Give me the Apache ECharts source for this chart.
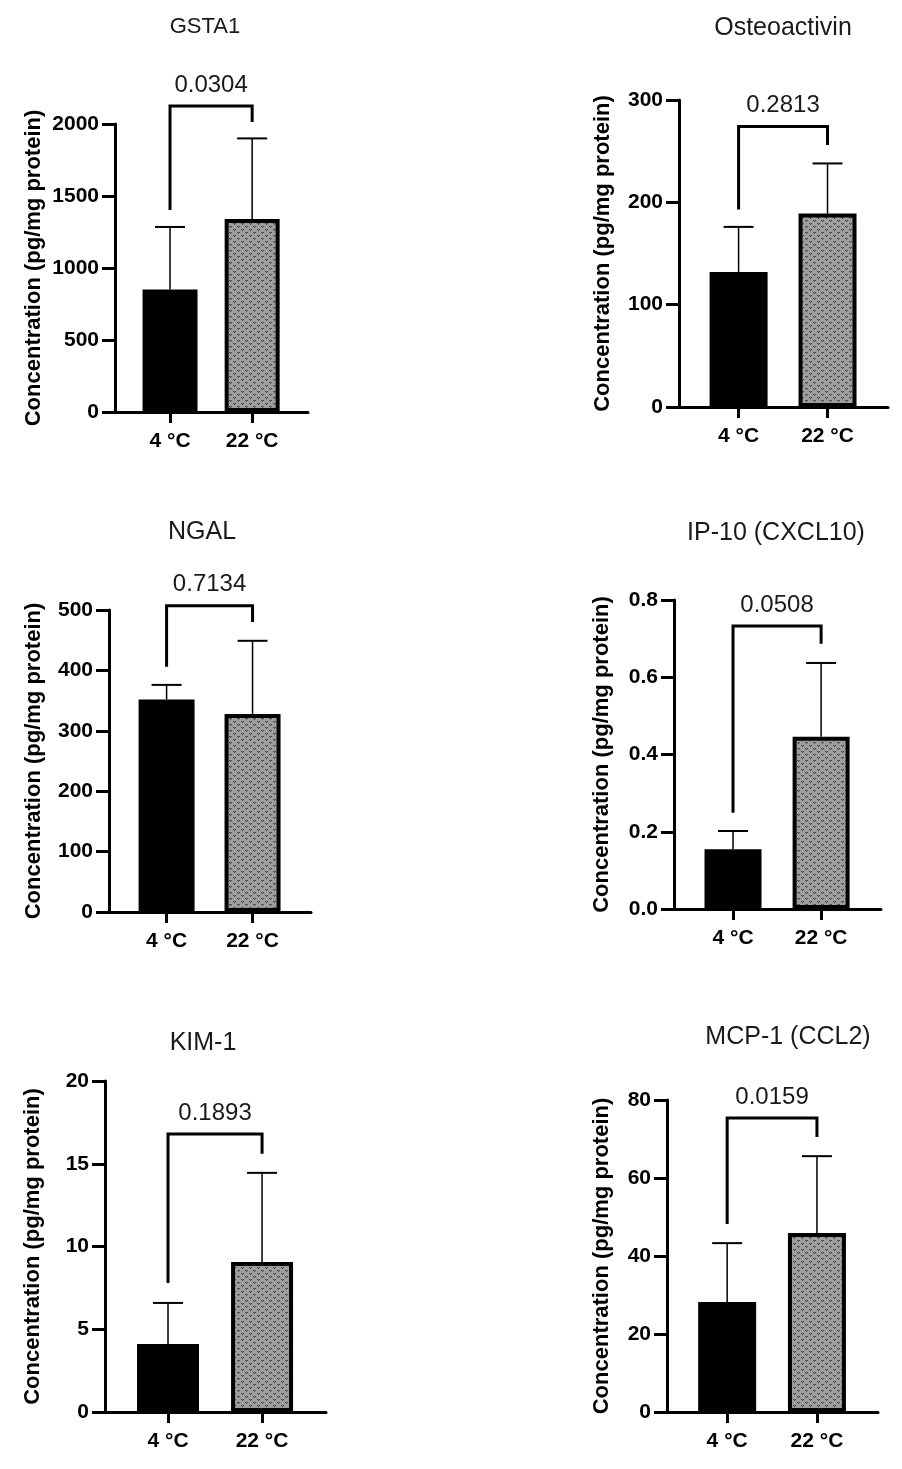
<!DOCTYPE html>
<html>
<head>
<meta charset="utf-8">
<title>Urinary kidney injury markers</title>
<script src="https://cdn.jsdelivr.net/npm/echarts@6/dist/echarts.min.js"></script>
<style>
html, body { margin: 0; padding: 0; background: #fff; }
#main { width: 902px; height: 1469px; }
</style>
</head>
<body>
<div id="main"></div>
<script>
/*** data ***/
var groups = ['4 °C', '22 °C'];
var markers = ['GSTA1', 'Osteoactivin', 'NGAL', 'IP-10 (CXCL10)', 'KIM-1', 'MCP-1 (CCL2)'];
var pValues = ['0.0304', '0.2813', '0.7134', '0.0508', '0.1893', '0.0159'];
var yTitle = 'Concentration (pg/mg protein)';

// mean per group [4 °C, 22 °C]
var meanGSTA1 = [850, 1340];
var meanOsteo = [132, 189];
var meanNGAL = [352, 328];
var meanIP10 = [0.155, 0.446];
var meanKIM1 = [4.11, 9.07];
var meanMCP1 = [28.2, 45.9];

// SD, upper whisker only
var sdGSTA1 = [435, 560];
var sdOsteo = [44, 49];
var sdNGAL = [24, 121];
var sdIP10 = [0.047, 0.191];
var sdKIM1 = [2.48, 5.38];
var sdMCP1 = [15.1, 19.7];

// y axis ticks: max, step
var yMax = [2000, 300, 500, 0.8, 20, 80];
var yStep = [500, 100, 100, 0.2, 5, 20];

// significance bracket: [bar level, left leg end, right leg end]
var bracketGSTA1 = [2125, 1403, 2014];
var bracketOsteo = [274, 193, 256];
var bracketNGAL = [507, 406, 480];
var bracketIP10 = [0.733, 0.249, 0.687];
var bracketKIM1 = [16.8, 7.8, 15.6];
var bracketMCP1 = [75.4, 48.2, 70.5];

var means = [meanGSTA1, meanOsteo, meanNGAL, meanIP10, meanKIM1, meanMCP1];
var sds = [sdGSTA1, sdOsteo, sdNGAL, sdIP10, sdKIM1, sdMCP1];
var brackets = [bracketGSTA1, bracketOsteo, bracketNGAL, bracketIP10, bracketKIM1, bracketMCP1];

/*** layout (px) ***/
var panels = [
	{ left: 115, top: 124, width: 193, height: 288, barW: 55, nameGap: 70, titleX: 205, titleY: 27, titleSize: 22 },
	{ left: 679, top: 100, width: 209, height: 307, barW: 58, nameGap: 65, titleX: 783, titleY: 28, titleSize: 25 },
	{ left: 109, top: 610, width: 202, height: 302, barW: 56, nameGap: 64, titleX: 202, titleY: 532, titleSize: 25 },
	{ left: 674, top: 600, width: 207, height: 309, barW: 57, nameGap: 61, titleX: 776, titleY: 533, titleSize: 25 },
	{ left: 105, top: 1081, width: 221, height: 331, barW: 62, nameGap: 61, titleX: 203, titleY: 1043, titleSize: 25 },
	{ left: 667, top: 1100, width: 211, height: 312, barW: 58, nameGap: 54, titleX: 788, titleY: 1037, titleSize: 25 }
];
var FONT = "'Liberation Sans', Arial, Helvetica, sans-serif";

var markerChart = {
	init: function() {
		var chart = echarts.init(document.getElementById('main'), null, { renderer: 'canvas' });
		chart.setOption(this.buildOption(), true);
	},
	//灰色点状填充
	buildPattern: function() {
		var c = document.createElement('canvas');
		c.width = 8;
		c.height = 6;
		var ctx = c.getContext('2d');
		ctx.fillStyle = '#9e9e9e';
		ctx.fillRect(0, 0, 8, 6);
		ctx.fillStyle = '#474747';
		ctx.fillRect(1, 1, 1, 1);
		ctx.fillRect(3, 1, 1, 1);
		ctx.fillRect(2, 2, 1, 1);
		ctx.fillRect(5, 4, 1, 1);
		ctx.fillRect(7, 4, 1, 1);
		ctx.fillRect(6, 5, 1, 1);
		ctx.fillStyle = '#747474';
		ctx.fillRect(2, 1, 1, 1);
		ctx.fillRect(6, 4, 1, 1);
		return { image: c, repeat: 'repeat' };
	},
	buildOption: function() {
		var pattern = this.buildPattern();
		var grids = [], xAxes = [], yAxes = [], series = [], graphics = [];
		for (var i = 0; i < panels.length; i++) {
			var p = panels[i];
			grids.push({ left: p.left, top: p.top, width: p.width, height: p.height, containLabel: false });
			xAxes.push({
				type: 'value',
				gridIndex: i,
				min: -0.67,
				max: 1.68,
				axisLine: { show: true, onZero: false, lineStyle: { color: '#000', width: 3 } },
				axisTick: { show: true, customValues: [0, 1], length: 11, lineStyle: { color: '#000', width: 3 } },
				axisLabel: {
					customValues: [0, 1],
					margin: 19,
					color: '#000',
					fontSize: 21,
					fontWeight: 'bold',
					fontFamily: FONT,
					formatter: function(v) { return groups[Math.round(v)]; }
				},
				splitLine: { show: false }
			});
			yAxes.push({
				type: 'value',
				gridIndex: i,
				min: 0,
				max: yMax[i],
				interval: yStep[i],
				name: yTitle,
				nameLocation: 'middle',
				nameGap: p.nameGap,
				nameTextStyle: { color: '#000', fontSize: 22, fontWeight: 'bold', fontFamily: FONT },
				axisLine: { show: true, onZero: false, lineStyle: { color: '#000', width: 3 } },
				axisTick: { show: true, length: 13, lineStyle: { color: '#000', width: 3 } },
				axisLabel: {
					margin: 16,
					color: '#000',
					fontSize: 21,
					fontWeight: 'bold',
					fontFamily: FONT,
					formatter: yStep[i] < 1 ? function(v) { return v.toFixed(1); } : function(v) { return String(v); }
				},
				splitLine: { show: false }
			});
			//柱子
			series.push({
				type: 'bar',
				xAxisIndex: i,
				yAxisIndex: i,
				barWidth: p.barW,
				z: 2,
				data: [
					{ value: [0, means[i][0]], itemStyle: { color: '#000' } },
					{ value: [1, means[i][1]], itemStyle: { color: pattern, borderColor: '#000', borderWidth: 4 } }
				]
			});
			//误差线
			series.push({
				type: 'custom',
				xAxisIndex: i,
				yAxisIndex: i,
				z: 3,
				clip: false,
				data: [[0, means[i][0], sds[i][0]], [1, means[i][1], sds[i][1]]],
				renderItem: function(params, api) {
					var base = api.coord([api.value(0), api.value(1)]);
					var top = api.coord([api.value(0), api.value(1) + api.value(2)]);
					return {
						type: 'group',
						children: [
							{ type: 'line', shape: { x1: base[0], y1: base[1], x2: top[0], y2: top[1] }, style: { stroke: '#000', lineWidth: 1.5 } },
							{ type: 'line', shape: { x1: top[0] - 15, y1: top[1], x2: top[0] + 15, y2: top[1] }, style: { stroke: '#000', lineWidth: 2 } }
						]
					};
				}
			});
			//显著性标注
			series.push({
				type: 'custom',
				xAxisIndex: i,
				yAxisIndex: i,
				z: 3,
				clip: false,
				data: [[0, 1, brackets[i][0], brackets[i][1], brackets[i][2], i]],
				renderItem: function(params, api) {
					var lv = api.value(2);
					var a = api.coord([api.value(0), lv]);
					var b = api.coord([api.value(1), lv]);
					var l = api.coord([api.value(0), api.value(3)]);
					var r = api.coord([api.value(1), api.value(4)]);
					return {
						type: 'group',
						children: [
							{ type: 'polyline', shape: { points: [l, a, b, r] }, style: { stroke: '#000', lineWidth: 3, fill: null } },
							{ type: 'text', x: (a[0] + b[0]) / 2, y: a[1] - 21, style: {
								text: pValues[api.value(5)], align: 'center', verticalAlign: 'middle',
								fill: '#1a1a1a', fontSize: 24, fontFamily: FONT } }
						]
					};
				}
			});
			graphics.push({
				type: 'text',
				x: p.titleX,
				y: p.titleY,
				style: { text: markers[i], align: 'center', verticalAlign: 'middle', fill: '#1a1a1a', fontSize: p.titleSize, fontFamily: FONT }
			});
		}
		return {
			backgroundColor: '#fff',
			animation: false,
			grid: grids,
			xAxis: xAxes,
			yAxis: yAxes,
			series: series,
			graphic: graphics
		};
	}
};

markerChart.init();
</script>
</body>
</html>
